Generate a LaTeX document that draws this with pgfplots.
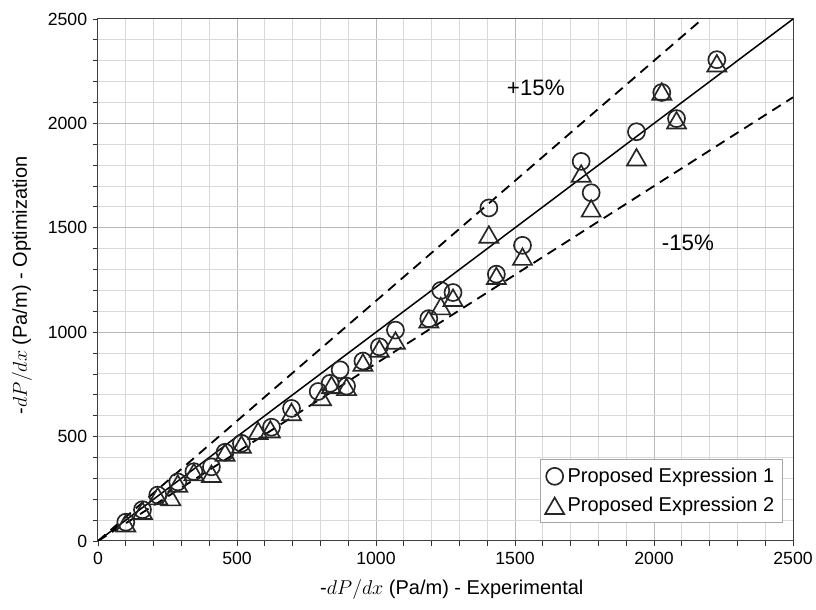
\documentclass[border=0pt]{standalone}
\usepackage{fontspec}
\setmainfont{Liberation Sans}
\usepackage{pgfplots}
\pgfplotsset{compat=1.18}
\usepackage{pgfplotstable}

\pgfplotstableread{
x y
100 90
160 150
215 220
287 283
345 332
408 355
457 425
516 468
624 545
696 635
792 716
835 755
871 820
894 742
953 862
1012 930
1070 1010
1190 1065
1233 1200
1277 1190
1406 1595
1433 1278
1527 1416
1738 1818
1774 1668
1937 1960
2028 2148
2081 2023
2226 2305
}\exprA

\pgfplotstableread{
x y
100 85
160 145
215 215
262 210
287 275
345 330
408 322
457 424
516 462
576 528
620 535
696 618
804 690
840 748
894 738
953 855
1012 922
1070 960
1190 1062
1233 1125
1277 1165
1406 1468
1433 1270
1527 1362
1738 1760
1774 1593
1937 1838
2028 2153
2081 2015
2226 2288
}\exprB

\begin{document}
\begin{tikzpicture}
\begin{axis}[
 name=ax,
 scale only axis, width=417pt, height=313.2pt,
 xmin=0, xmax=2500, ymin=0, ymax=2500,
 xtick={0,500,...,2500}, ytick={0,500,...,2500},
 minor tick num=4,
 grid=both,
 major grid style={gray!55, line width=0.6pt},
 minor grid style={gray!30, line width=0.6pt},
 tick align=outside, tick pos=left,
 major tick length=3pt, minor tick length=3pt,
 tick style={black!80, line width=0.5pt},
 axis line style={black!75, line width=0.6pt},
 ticklabel style={font=\fontsize{10.6}{12}\selectfont},
 /pgf/number format/assume math mode=true,
 /pgf/number format/set thousands separator={},
 xlabel={-$dP/dx$ (Pa/m) - Experimental},
 ylabel={-$dP/dx$ (Pa/m) - Optimization},
 label style={font=\fontsize{12}{14}\selectfont},
 xlabel style={at={(axis description cs:0.509,0)}, anchor=center, yshift=-29.4pt},
 ylabel style={at={(axis description cs:-0.1094,0.49)}, anchor=center},
 legend style={at={(0.9856,0.0345)}, anchor=south east, draw=gray!70, fill=white,
   font=\fontsize{12}{14}\selectfont, inner xsep=3pt, inner ysep=3pt, row sep=3.5pt,
   cells={anchor=west}},
 legend image code/.code={\draw[#1,mark repeat=2,mark phase=2] plot coordinates {(0cm,0cm)(0.19cm,0cm)(0.38cm,0cm)};},
]
\addplot[black, line width=0.9pt, forget plot] coordinates {(0,0)(2500,2500)};
\addplot[black, line width=1.1pt, dash pattern=on 6pt off 4pt, forget plot] coordinates {(0,0)(2173.9,2500)};
\addplot[black, line width=1.1pt, dash pattern=on 6pt off 4pt, forget plot] coordinates {(0,0)(2500,2125)};
\addplot[only marks, mark=o, mark size=5.1pt, mark options={draw=black!85, fill=white, line width=1pt}] table[x=x,y=y] {\exprA};
\addlegendentry{Proposed Expression 1}
\addplot[only marks, mark=triangle, mark size=6.6pt, mark options={draw=black!85, fill=white, line width=1pt, yshift=-1.65pt}] table[x=x,y=y] {\exprB};
\addlegendentry{Proposed Expression 2}
\node[font=\fontsize{13.4}{15}\selectfont] at (axis cs:1575,2170) {+15\%};
\node[font=\fontsize{13.4}{15}\selectfont] at (axis cs:2122,1427) {-15\%};
\end{axis}
\pgfresetboundingbox
\path ([xshift=-58.8pt,yshift=-41.4pt]ax.south west) rectangle ([xshift=13.8pt,yshift=11.4pt]ax.north east);
\end{tikzpicture}
\end{document}
